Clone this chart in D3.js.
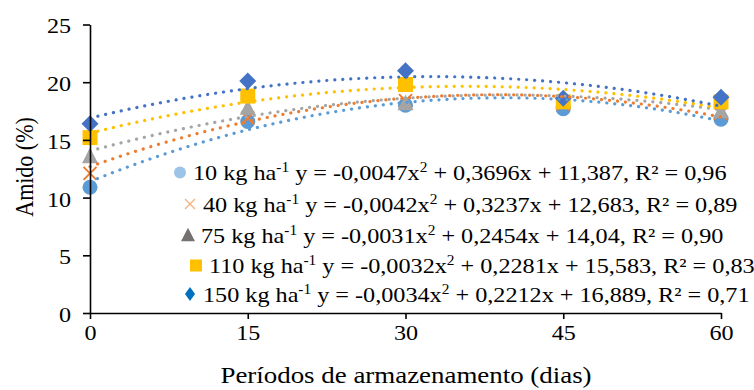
<!DOCTYPE html>
<html>
<head>
<meta charset="utf-8">
<script src="https://cdn.jsdelivr.net/npm/d3@7"></script>
<style>
  body { margin: 0; background: #fff; }
  text { font-family: "Times New Roman", "Liberation Serif", serif; fill: #000; }
</style>
</head>
<body>
<script>
const width = 754;
const height = 390;

// data
const days = [0, 15, 30, 45, 60];
const doses = ["10", "40", "75", "110", "150"];
const amido10 = [10.9, 16.6, 18.0, 17.7, 16.8];
const amido40 = [12.1, 16.9, 18.4, 18.1, 17.3];
const amido75 = [13.6, 17.8, 18.2, 18.4, 17.5];
const amido110 = [15.2, 18.8, 19.8, 18.3, 18.3];
const amido150 = [16.4, 20.1, 21.0, 18.6, 18.7];
// trend line coefficients y = a x^2 + b x + c
const coefA = [-0.0047, -0.0042, -0.0031, -0.0032, -0.0034];
const coefB = [0.3696, 0.3237, 0.2454, 0.2281, 0.2212];
const coefC = [11.387, 12.683, 14.04, 15.583, 16.889];
const coefAtxt = ["-0,0047", "-0,0042", "-0,0031", "-0,0032", "-0,0034"];
const coefBtxt = ["0,3696", "0,3237", "0,2454", "0,2281", "0,2212"];
const coefCtxt = ["11,387", "12,683", "14,04", "15,583", "16,889"];
const r2txt = ["0,96", "0,89", "0,90", "0,83", "0,71"];
const yTicks = [0, 5, 10, 15, 20, 25];
const xTicks = [0, 15, 30, 45, 60];

const series = [amido10, amido40, amido75, amido110, amido150];
const colors = ["#5B9BD5", "#ED7D31", "#A5A5A5", "#FFC000", "#4472C4"];
const legendColors = ["#9DC3E6", "#F4B183", "#767171", "#FFC000", "#0070C0"];
const shapes = ["circle", "x", "triangle", "square", "diamond"];

const x = d3.scaleLinear().domain([0, 60]).range([90, 721]);
const y = d3.scaleLinear().domain([0, 25]).range([313, 24.5]);

const svg = d3.select("body")
  .append("svg")
  .attr("width", width)
  .attr("height", height);

const fontFam = "Times New Roman, Liberation Serif, serif";

const markerPath = (shape, s) => {
  if (shape === "circle") return d3.symbol(d3.symbolCircle, Math.PI * s * s / 4)();
  if (shape === "square") return d3.symbol(d3.symbolSquare, s * s)();
  if (shape === "triangle") {
    const h = s * 0.9;
    return `M0,${-h / 2 - 1}L${s / 2},${h / 2}L${-s / 2},${h / 2}Z`;
  }
  if (shape === "diamond") {
    const r = s / 2;
    return `M0,${-r}L${r},0L0,${r}L${-r},0Z`;
  }
  const r = s / 2;
  return `M${-r},${-r}L${r},${r}M${r},${-r}L${-r},${r}`;
};

const drawMarker = (g, shape, color, s) => {
  const p = g.append("path").attr("d", markerPath(shape, s));
  if (shape === "x") {
    p.attr("fill", "none").attr("stroke", color).attr("stroke-width", 2);
  } else {
    p.attr("fill", color);
  }
};

// points
series.forEach((vals, i) => {
  const g = svg.append("g");
  vals.forEach((v, j) => {
    const m = g.append("g").attr("transform", `translate(${x(days[j])},${y(v)})`);
    const size = { circle: 15, x: 13, triangle: 16, square: 15, diamond: 17 }[shapes[i]];
    drawMarker(m, shapes[i], colors[i], size);
  });
});

// trend lines
const line = d3.line().x((d) => x(d[0])).y((d) => y(d[1]));
series.forEach((vals, i) => {
  const pts = d3.range(0, 60.01, 0.5).map((t) => [t, coefA[i] * t * t + coefB[i] * t + coefC[i]]);
  svg.append("path")
    .attr("d", line(pts))
    .attr("fill", "none")
    .attr("stroke", colors[i])
    .attr("stroke-width", 3.2)
    .attr("stroke-linecap", "round")
    .attr("stroke-dasharray", "0.1 7.9");
});

// axes
const yAxis = svg.append("g")
  .attr("transform", `translate(${x(0)},0)`)
  .call(d3.axisLeft(y).tickValues(yTicks).tickSize(7).tickPadding(9.5).tickSizeOuter(0));
const xAxis = svg.append("g")
  .attr("transform", `translate(0,${y(0)})`)
  .call(d3.axisBottom(x).tickValues(xTicks).tickSize(6).tickPadding(6).tickSizeOuter(0));

[yAxis, xAxis].forEach((ax) => {
  ax.attr("font-family", fontFam);
  ax.select(".domain").attr("stroke", "#000").attr("stroke-width", 1.6);
  ax.selectAll(".tick line").attr("stroke", "#000").attr("stroke-width", 1.6);
  ax.selectAll(".tick text")
    .attr("font-family", fontFam)
    .attr("font-size", 21)
    .attr("fill", "#000");
});
yAxis.selectAll(".tick text").attr("dy", "0.4em").attr("transform", "scale(1.15,1)");
xAxis.selectAll(".tick text").attr("transform", "scale(1.15,1)");

// axis titles
svg.append("text")
  .attr("transform", "translate(406,383) scale(1.17,1)")
  .attr("text-anchor", "middle")
  .attr("font-size", 23)
  .text("Períodos de armazenamento (dias)");

svg.append("text")
  .attr("transform", "translate(33,167) rotate(-90) scale(1,1.15)")
  .attr("text-anchor", "middle")
  .attr("font-size", 22)
  .text("Amido (%)");

// legend
const legX = [180, 190, 188, 196, 190];
const legBase = [180, 211.5, 242.5, 273, 301.5];
const legSize = [12, 10, 14, 12, 12];

doses.forEach((d, i) => {
  const m = svg.append("g").attr("transform", `translate(${legX[i]},${legBase[i] - 7.5})`);
  if (shapes[i] === "diamond") {
    m.append("path").attr("d", "M0,-7L5,0L0,7L-5,0Z").attr("fill", legendColors[i]);
  } else {
    drawMarker(m, shapes[i], legendColors[i], legSize[i]);
  }
  m.select("path").attr("stroke-width", shapes[i] === "x" ? 1.3 : null);

  const t = svg.append("text")
    .attr("transform", `translate(${legX[i] + 13},${legBase[i]}) scale(1.1,1)`)
    .attr("font-size", 22);
  t.append("tspan").text(`${d} kg ha`);
  t.append("tspan").attr("font-size", 14).attr("dy", -8).text("-1");
  t.append("tspan").attr("dy", 8).text(` y = ${coefAtxt[i]}x`);
  t.append("tspan").attr("font-size", 14).attr("dy", -8).text("2");
  t.append("tspan").attr("dy", 8)
    .text(` + ${coefBtxt[i]}x + ${coefCtxt[i]}, R² = ${r2txt[i]}`);
});
</script>
</body>
</html>
